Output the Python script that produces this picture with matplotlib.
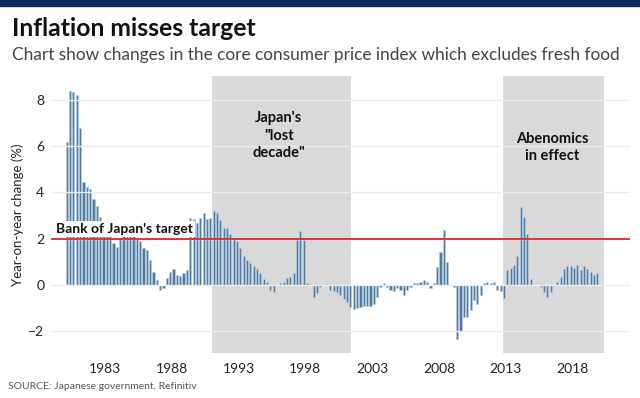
import numpy as np
import matplotlib.pyplot as plt

plt.rcParams['font.family'] = ['Lato', 'DejaVu Sans']

# quarterly core CPI, year-on-year %, 1980Q1 .. 2019Q4
cpi_by_year = {
    1980: [6.2, 8.4, 8.35, 8.2],
    1981: [6.8, 4.45, 4.25, 4.15],
    1982: [3.7, 3.4, 2.95, 2.75],
    1983: [2.6, 2.2, 1.8, 1.65],
    1984: [2.05, 2.15, 2.2, 2.1],
    1985: [2.1, 2.05, 1.9, 1.6],
    1986: [1.5, 1.1, 0.57, 0.22],
    1987: [-0.2, -0.15, 0.3, 0.55],
    1988: [0.68, 0.43, 0.38, 0.5],
    1989: [0.65, 2.9, 2.85, 2.7],
    1990: [2.9, 3.1, 2.85, 2.9],
    1991: [3.2, 3.1, 2.8, 2.45],
    1992: [2.45, 2.2, 2.0, 1.9],
    1993: [1.6, 1.25, 1.1, 0.95],
    1994: [0.8, 0.7, 0.5, 0.25],
    1995: [0.15, -0.2, -0.3, 0.0],
    1996: [0.07, 0.15, 0.3, 0.35],
    1997: [0.5, 1.95, 2.35, 1.95],
    1998: [0.1, 0.05, -0.5, -0.35],
    1999: [-0.1, 0.02, 0.05, -0.2],
    2000: [-0.25, -0.3, -0.45, -0.6],
    2001: [-0.75, -0.95, -1.05, -1.0],
    2002: [-0.95, -0.9, -0.92, -0.9],
    2003: [-0.8, -0.5, -0.1, 0.07],
    2004: [-0.1, -0.22, -0.25, -0.15],
    2005: [-0.2, -0.43, -0.2, -0.1],
    2006: [0.1, 0.07, 0.15, 0.2],
    2007: [0.15, -0.12, 0.07, 0.76],
    2008: [1.44, 2.37, 1.0, 0.0],
    2009: [-0.1, -2.35, -2.0, -1.4],
    2010: [-1.4, -1.1, -0.65, -0.8],
    2011: [-0.43, 0.1, 0.14, 0.07],
    2012: [0.14, -0.2, -0.25, -0.55],
    2013: [0.65, 0.75, 0.86, 1.27],
    2014: [3.38, 2.95, 2.19, 0.24],
    2015: [0.02, 0.0, -0.1, -0.29],
    2016: [-0.53, -0.29, -0.05, 0.14],
    2017: [0.36, 0.68, 0.82, 0.82],
    2018: [0.72, 0.86, 0.65, 0.82],
    2019: [0.7, 0.58, 0.43, 0.53],
}
target = 2.0
lost_decade = (1991.0, 2001.4)
abenomics = (2012.8, 2020.4)
xtick_years = [1983, 1988, 1993, 1998, 2003, 2008, 2013, 2018]
yticks = [-2, 0, 2, 4, 6, 8]

t = []
vals = []
for yr, qs in cpi_by_year.items():
    for q, v in enumerate(qs):
        t.append(yr + 0.25*q + 0.125)
        vals.append(v)
t = np.array(t)
vals = np.array(vals)

fig = plt.figure(figsize=(6.4, 3.98), dpi=100)
fig.patches.append(plt.Rectangle((0, 0.985), 1, 0.015, transform=fig.transFigure,
                                 color='#0d2b5e', zorder=0))
fig.text(0.019, 0.928, 'Inflation misses target', fontsize=17.8, fontweight='bold',
         color='#111111', va='center')
fig.text(0.019, 0.862, 'Chart show changes in the core consumer price index which excludes fresh food',
         fontsize=12.4, color='#444444', va='center')
fig.text(0.012, 0.028, 'SOURCE: Japanese government, Refinitiv', fontsize=7.5, color='#555555',
         va='center')

ax = fig.add_axes([0.08, 0.113, 0.904, 0.696])
ax.axvspan(*lost_decade, color='#d9d9d9', zorder=0, lw=0)
ax.axvspan(*abenomics, color='#d9d9d9', zorder=0, lw=0)
ax.set_yticks(yticks)
ax.grid(axis='y', color='#ededed', lw=1, zorder=1)
ax.set_axisbelow(False)
ax.bar(t, vals, width=0.16, color='#537a9f', edgecolor='#b3cce2', lw=0.5, zorder=2)
ax.axhline(target, color='#d42a2f', lw=1.3, zorder=4)

ax.text(1979.35, 2.17, "Bank of Japan's target", fontsize=10, fontweight='bold', color='#111111',
        va='bottom', zorder=5,
        bbox=dict(facecolor='white', edgecolor='none', pad=1.5))
ax.text(1996.0, 6.45, 'Japan\'s\n"lost\ndecade"', fontsize=10.5, fontweight='bold',
        ha='center', va='center', linespacing=1.3, color='#111111', zorder=5)
ax.text(2016.5, 5.95, 'Abenomics\nin effect', fontsize=10.5, fontweight='bold',
        ha='center', va='center', linespacing=1.3, color='#111111', zorder=5)

ax.set_xlim(1978.96, 2022.3)
ax.set_ylim(-2.94, 9.03)
ax.set_xticks(xtick_years)
ax.tick_params(axis='x', length=0, labelsize=10, colors='#222222', pad=7)
ax.tick_params(axis='y', length=0, labelsize=10, colors='#222222', pad=5)
ax.set_ylabel('Year-on-year change (%)', fontsize=9.5, color='#222222', labelpad=3)
for s in ax.spines.values():
    s.set_visible(False)

fig.savefig('out.png', dpi=100)
